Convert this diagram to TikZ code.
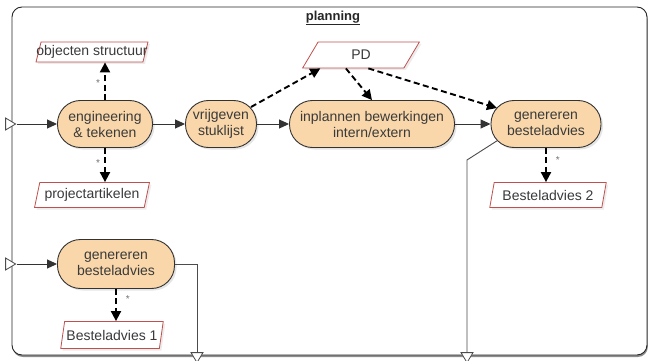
\documentclass[tikz,border=0pt]{standalone}
\usepackage{fontspec}
\setmainfont{Liberation Sans}
\usetikzlibrary{shapes.geometric,arrows.meta,calc,shadows}

\definecolor{peach}{HTML}{F9D7AA}
\definecolor{datared}{HTML}{C0504D}
\definecolor{txtgray}{HTML}{3A3A3A}

\tikzset{
  activity/.style={draw=black!80, line width=0.9pt, fill=peach, rounded corners=23pt,
    minimum height=47pt, inner sep=0pt, align=center, text=txtgray,
    font=\fontsize{14}{16}\selectfont,
    drop shadow={opacity=0.2, shadow xshift=2pt, shadow yshift=-2pt}},
  dataobj/.style={draw=datared, line width=0.8pt, fill=white, trapezium,
    trapezium left angle=70, trapezium right angle=110, trapezium stretches=true,
    minimum height=25pt, inner sep=0pt, text=txtgray,
    font=\fontsize{14}{16}\selectfont,
    drop shadow={opacity=0.15, shadow xshift=2pt, shadow yshift=-2pt}},
  port/.style={draw=black!70, line width=0.8pt, fill=white, isosceles triangle,
    isosceles triangle stretches, minimum width=12pt, minimum height=10pt, inner sep=0pt},
  flow/.style={draw=black!80, line width=1pt, -{Triangle[length=10pt,width=9pt]}},
  dataflow/.style={draw=black, line width=1.9pt, dash pattern=on 6pt off 3.5pt,
    -{Triangle[length=10pt,width=10pt]}},
  outflow/.style={draw=black!70, line width=0.9pt},
  mult/.style={font=\fontsize{10}{10}\selectfont, text=black!55, inner sep=1pt}
}

\begin{document}
\begin{tikzpicture}[x=1pt,y=-1pt]
\useasboundingbox (0,0) rectangle (651,361);

\draw[draw=black!85, line width=0.9pt, fill=white, rounded corners=10pt,
  drop shadow={opacity=0.9, shadow xshift=0.8pt, shadow yshift=-2pt}] (12,7) rectangle (647,355);
\node[font=\bfseries\fontsize{13}{13}\selectfont, text=black!85] (title) at (333,18) {\underline{planning}};

\node[dataobj, minimum width=112pt, minimum height=20pt] (obj) at (92,52) {\makebox[96pt]{objecten structuur}};
\node[dataobj, minimum width=115pt] (proj) at (92,195) {projectartikelen};
\node[dataobj, minimum width=117pt, minimum height=26pt] (pd) at (361,55) {PD};
\node[dataobj, minimum width=117pt] (best2) at (548,195) {Besteladvies 2};
\node[dataobj, minimum width=103pt, minimum height=27pt] (best1) at (112,335) {Besteladvies 1};

\node[activity, minimum width=95pt] (eng) at (105,124) {engineering\\\& tekenen};
\node[activity, minimum width=71pt] (vrij) at (221,124) {vrijgeven\\stuklijst};
\node[activity, minimum width=165pt] (inpl) at (372,124) {inplannen bewerkingen\\intern/extern};
\node[activity, minimum width=110pt] (genR) at (546,124) {genereren\\besteladvies};
\node[activity, minimum width=117pt, minimum height=49pt] (genL) at (116,264) {genereren\\besteladvies};

\node[port] (in1) at (9,124) {};
\node[port] (in2) at (9,264) {};
\node[port, shape border rotate=-90] (out1) at (197,356) {};
\node[port, shape border rotate=-90] (out2) at (467,356) {};
\coordinate (bend2) at (467,160);

\draw[flow] (in1.apex) -- (eng);
\draw[flow] (eng) -- (vrij);
\draw[flow] (vrij) -- (inpl);
\draw[flow] (inpl) -- (genR);
\draw[flow] (in2.apex) -- (genL);

\draw[dataflow] (eng.north) -- (eng.north |- obj.south) node[mult, pos=0.45, left=3pt] {*};
\draw[dataflow] (eng.south) -- (eng.south |- proj.north) node[mult, pos=0.45, left=3pt] {*};
\draw[dataflow] ([xshift=30pt,yshift=17pt]vrij.center) -- ($(pd.bottom left corner)!0.18!(pd.bottom right corner)$);
\draw[dataflow] ($(pd.bottom left corner)!0.43!(pd.bottom right corner)$) -- (inpl.north);
\draw[dataflow] ($(pd.bottom left corner)!0.65!(pd.bottom right corner)$) -- ([xshift=-49pt,yshift=16pt]genR.center);
\draw[dataflow] (genR.south) -- (genR.south |- best2.north) node[mult, pos=0.35, right=8pt] {*};
\draw[dataflow] (genL.south) -- (genL.south |- best1.north) node[mult, pos=0.3, right=8pt] {*};

\draw[outflow] ([xshift=-48.5pt,yshift=-16.5pt]genR.center) -- (bend2) -- (out2);
\draw[outflow] (genL.east) -| (out1);
\end{tikzpicture}
\end{document}
